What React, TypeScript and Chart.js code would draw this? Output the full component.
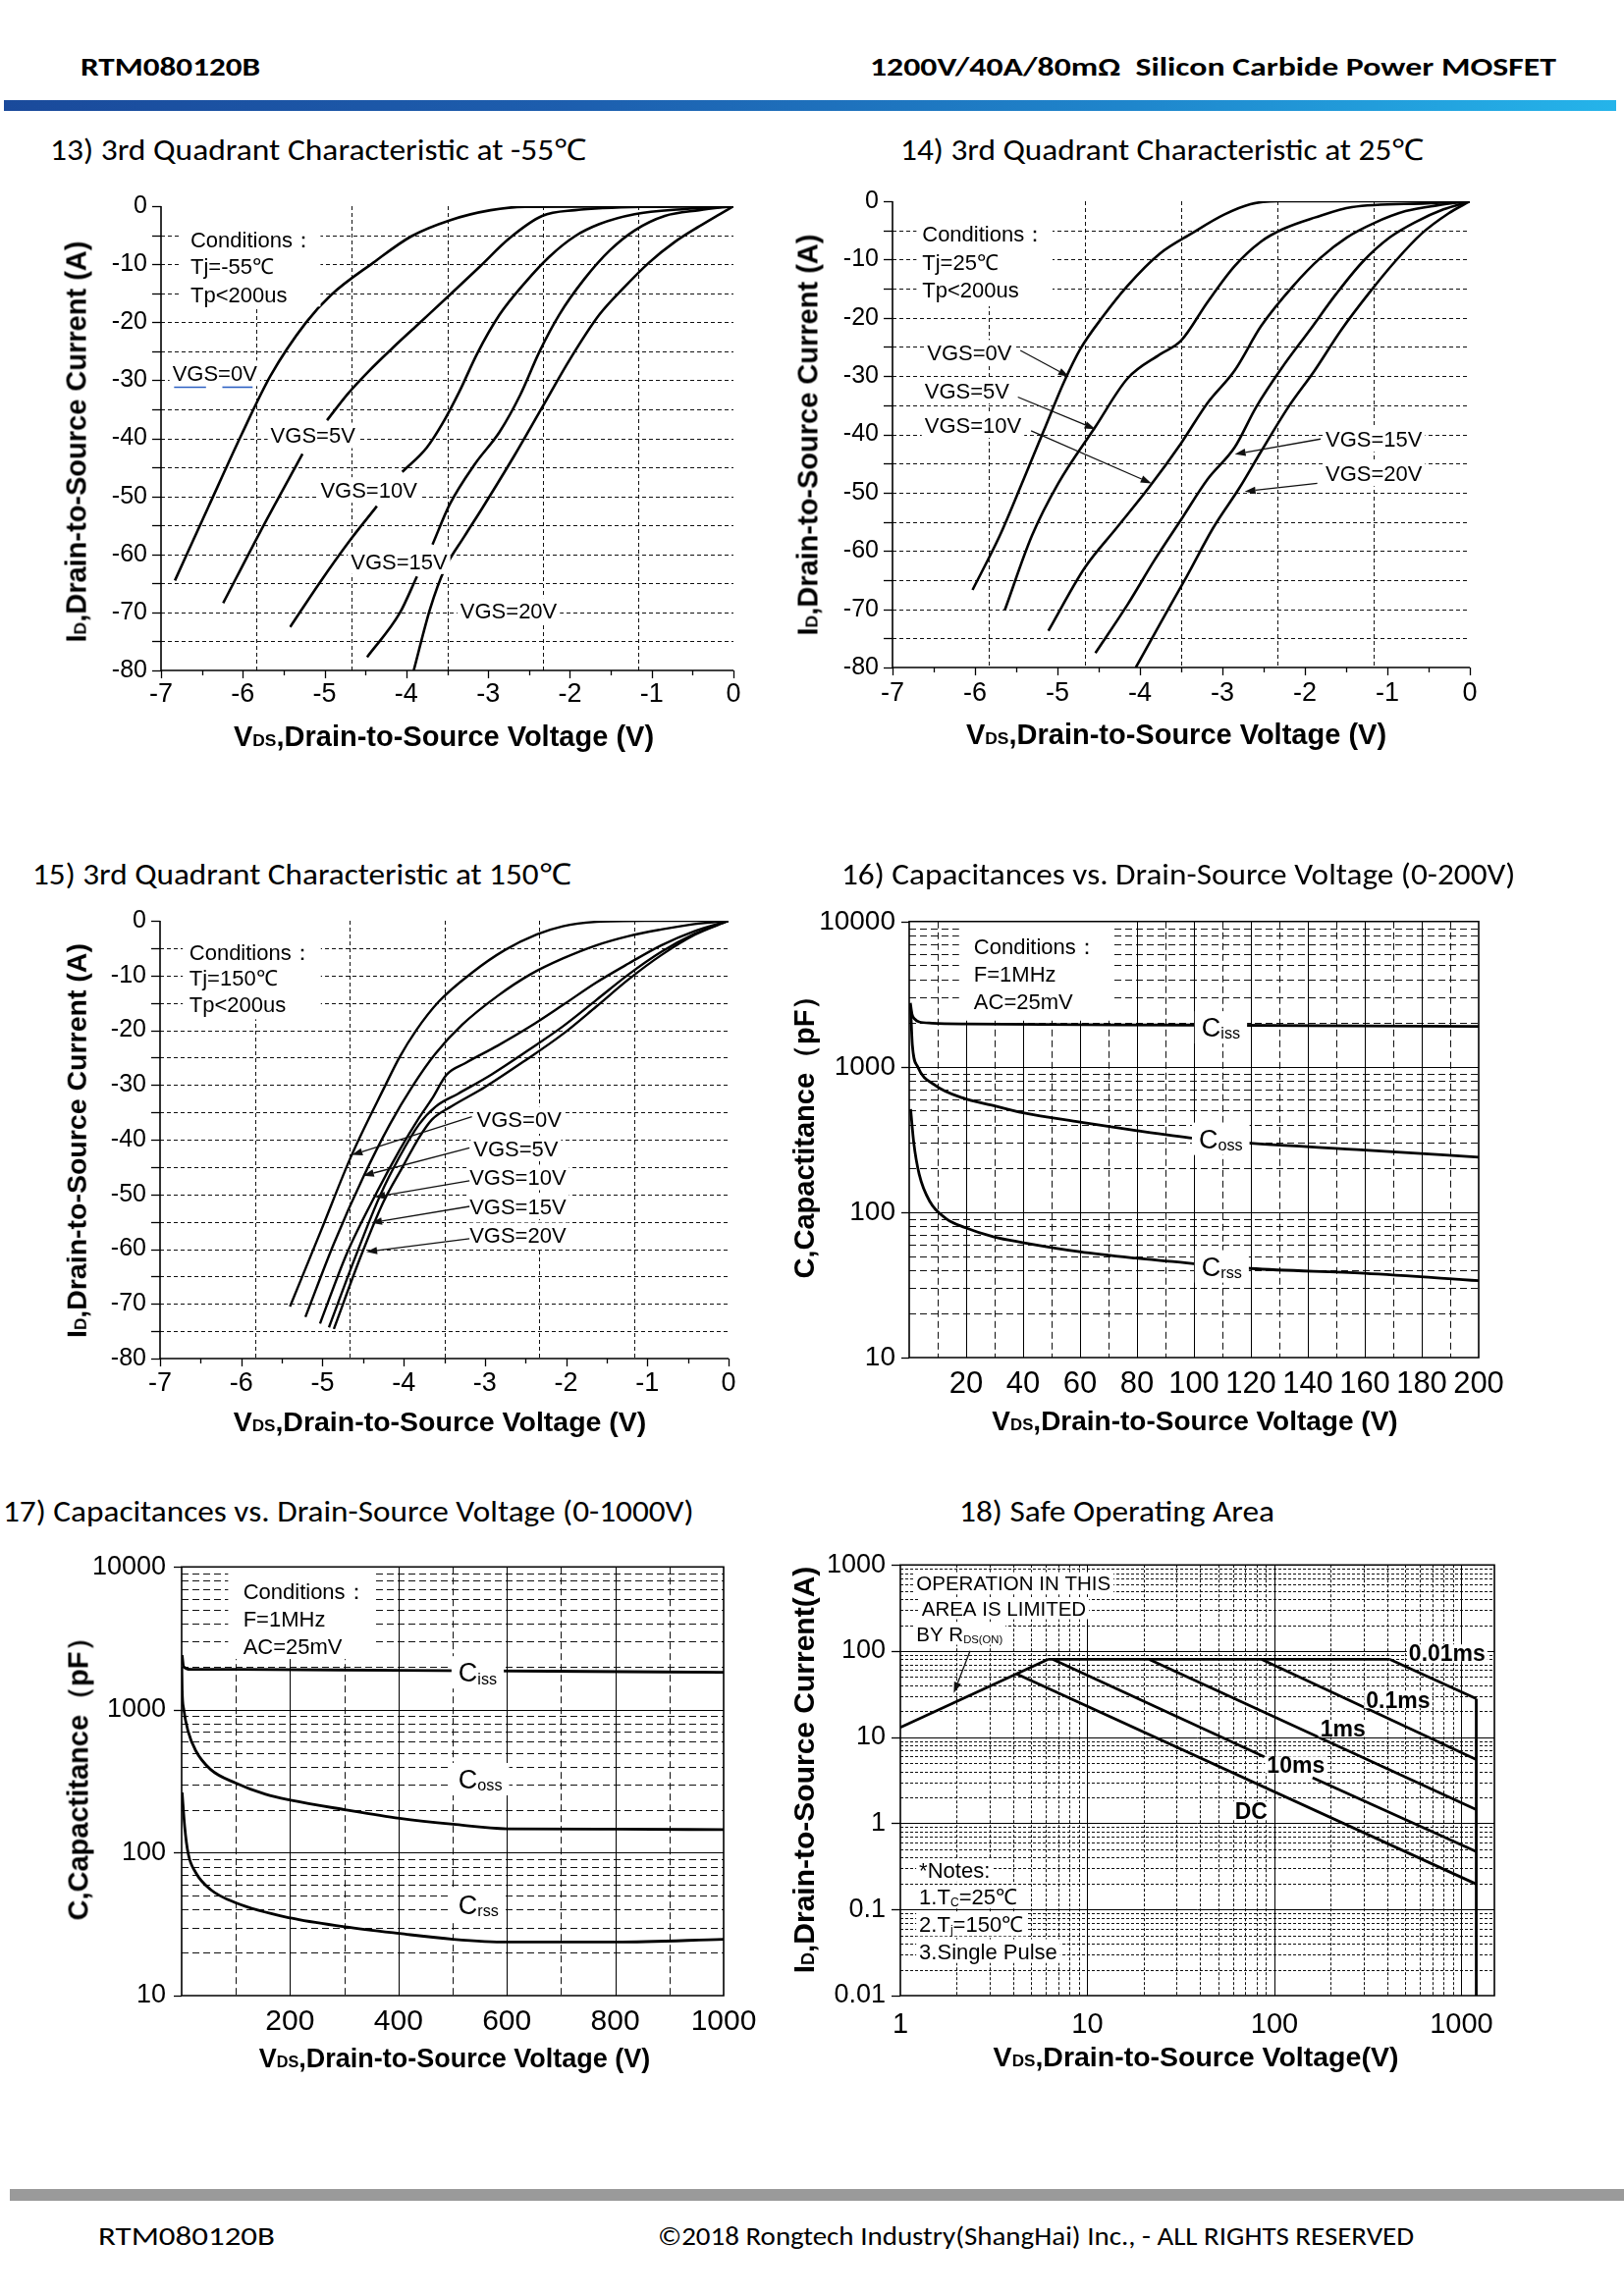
import React, { useEffect, useLayoutEffect, useRef } from 'react';
import { Chart, registerables } from 'chart.js';

Chart.register(...registerables);

type P = [number, number] | null;

/* ---------- 13) 3rd quadrant, Tj = -55℃   [VDS (V), ID (A)] ---------- */
const Q55_VGS0: P[] = [[-6.83,-64.5],[-6.42,-51.8],[-6.01,-39.2],[-5.66,-29.2],[-5.23,-20.1],[-4.92,-15.3],[-4.40,-9.7],[-3.94,-5.2],[-3.46,-2.4],[-2.97,-0.7],[-2.55,-0.1],[0,0]];
const Q55_VGS5: P[] = [[-6.24,-68.4],[-5.79,-56.2],[-5.27,-42.7],null,[-4.97,-36.9],[-4.72,-32.4],[-4.45,-28.3],[-4.18,-24.6],[-3.89,-20.8],[-3.47,-15.3],[-3.10,-10.4],[-2.74,-5.55],[-2.34,-1.7],[-1.94,-0.7],[-1.03,-0.1],[0,0]];
const Q55_VGS10: P[] = [[-5.42,-72.5],[-5.06,-64.9],[-4.69,-57.6],[-4.36,-51.7],null,[-4.05,-45.8],[-3.75,-41.6],[-3.56,-37.5],[-3.35,-31.9],[-3.13,-25.3],[-2.86,-18.7],[-2.55,-13.2],[-2.25,-8.7],[-1.94,-5.2],[-1.64,-3.1],[-1.21,-1.4],[-0.60,-0.5],[0,0]];
const Q55_VGS15: P[] = [[-4.48,-77.7],[-4.08,-70.1],[-3.87,-63.8],null,[-3.68,-58.3],[-3.47,-51.4],[-3.16,-44.4],[-2.86,-38.9],[-2.61,-32.6],[-2.37,-25.0],[-2.13,-18.7],[-1.82,-12.5],[-1.51,-7.6],[-1.21,-4.2],[-0.84,-1.7],[-0.42,-0.7],[0,0]];
const Q55_VGS20: P[] = [[-3.91,-80],[-3.71,-69.4],[-3.53,-62.5],[-3.29,-56.9],[-3.07,-52.0],[-2.68,-43.0],[-2.34,-34.7],[-2.00,-26.4],[-1.64,-18.7],[-1.33,-13.9],[-1.03,-9.7],[-0.72,-6.2],[-0.42,-3.5],[-0.17,-1.4],[0,0]];

/* ---------- 14) 3rd quadrant, Tj = 25℃ ---------- */
const Q25_VGS0: P[] = [[-6.03,-66.7],[-5.70,-57.4],[-5.41,-47.7],[-5.17,-39.5],[-4.92,-31.0],[-4.72,-25.3],[-4.45,-19.8],[-4.15,-14.5],[-3.76,-9.0],[-3.37,-5.5],[-2.98,-2.3],[-2.66,-0.5],[-2.33,0],[0,0]];
const Q25_VGS5: P[] = [[-5.64,-70.2],[-5.31,-57.4],[-4.99,-48.4],[-4.54,-38.7],[-4.15,-30.4],[-3.76,-26.3],[-3.50,-23.9],[-3.18,-17.3],[-2.85,-11.1],[-2.53,-6.9],[-2.27,-4.8],[-1.88,-2.8],[-1.43,-1.0],[-0.52,-0.35],[0,0]];
const Q25_VGS10: P[] = [[-5.11,-73.7],[-4.67,-62.9],[-4.28,-56.0],[-3.89,-49.1],[-3.50,-41.5],[-3.18,-34.6],[-2.85,-29.0],[-2.53,-21.4],[-2.14,-14.5],[-1.81,-9.7],[-1.49,-6.2],[-1.17,-3.8],[-0.78,-1.7],[-0.39,-0.7],[0,0]];
const Q25_VGS15: P[] = [[-4.54,-77.5],[-4.15,-69.2],[-3.82,-61.5],[-3.50,-54.6],[-3.18,-47.7],[-2.85,-42.2],[-2.59,-35.3],[-2.27,-28.4],[-1.94,-22.1],[-1.62,-15.9],[-1.30,-10.4],[-0.97,-6.2],[-0.65,-3.5],[-0.32,-1.4],[0,0]];
const Q25_VGS20: P[] = [[-4.05,-80],[-3.76,-72.6],[-3.43,-64.3],[-3.11,-56.0],[-2.79,-49.1],[-2.53,-42.9],[-2.20,-35.3],[-1.88,-29.0],[-1.56,-22.1],[-1.23,-15.9],[-0.91,-10.4],[-0.58,-5.5],[-0.26,-2.1],[0,0]];

/* ---------- 15) 3rd quadrant, Tj = 150℃ ---------- */
const Q150_VGS0: P[] = [[-5.40,-70.5],[-5.02,-56.7],[-4.64,-42.8],[-4.23,-30.2],[-4.05,-24.9],[-3.85,-20.1],[-3.57,-14.8],[-3.16,-9.5],[-2.76,-5.4],[-2.36,-2.5],[-2.04,-1.0],[-1.63,-0.2],[-1.03,0],[0,0]];
const Q150_VGS5: P[] = [[-5.21,-72.4],[-4.86,-59.0],[-4.49,-46.6],[-4.17,-37.2],[-3.89,-30.2],[-3.61,-24.3],[-3.28,-19.0],[-2.84,-13.7],[-2.44,-9.8],[-2.04,-6.9],[-1.63,-4.5],[-1.23,-2.8],[-0.83,-1.6],[-0.42,-0.6],[0,0]];
const Q150_VGS10: P[] = [[-5.03,-73.6],[-4.70,-60.8],[-4.33,-49.6],[-4.05,-41.9],[-3.81,-36.0],[-3.65,-32.5],[-3.47,-28.1],[-3.24,-26.0],[-2.84,-22.8],[-2.44,-19.3],[-2.04,-15.4],[-1.63,-11.3],[-1.23,-7.8],[-0.83,-4.5],[-0.42,-1.9],[0,0]];
const Q150_VGS15: P[] = [[-4.92,-74.3],[-4.61,-62.0],[-4.29,-50.2],[-4.05,-43.1],[-3.81,-37.2],[-3.61,-34.0],[-3.33,-31.6],[-2.92,-28.1],[-2.44,-23.4],[-2.04,-19.3],[-1.63,-14.5],[-1.23,-9.8],[-0.83,-5.7],[-0.42,-2.4],[0,0]];
const Q150_VGS20: P[] = [[-4.86,-74.6],[-4.53,-61.4],[-4.25,-51.4],[-4.01,-44.9],[-3.81,-39.6],[-3.65,-36.3],[-3.41,-33.9],[-3.00,-30.4],[-2.52,-25.7],[-2.04,-20.7],[-1.63,-15.7],[-1.23,-10.7],[-0.83,-6.3],[-0.42,-2.6],[0,0]];

/* ---------- 16) capacitances 0-200 V   [VDS (V), C (pF)] ---------- */
const C200_CISS: P[] = [[0.4,2750],[1,2300],[2,2130],[3.5,2040],[8,2000],[20,1975],[100,1940],[200,1900]];
const C200_COSS: P[] = [[0.5,2600],[1.1,1420],[3,1000],[9,750],[19,610],[29,545],[40,483],[60,417],[80,364],[100,323],[120,298],[160,268],[200,239]];
const C200_CRSS: P[] = [[0.5,512],[1.6,301],[3.5,183],[7.3,118],[12.9,90.6],[19.8,78.2],[29.8,67.6],[39.8,61.9],[59.8,53.5],[79.5,48.3],[99.8,44.3],[119.9,41.0],[159.8,38.0],[200,33.8]];

/* ---------- 17) capacitances 0-1000 V ---------- */
const C1000_CISS: P[] = [[0.9,2410],[3.7,2000],[16.6,1918],[100,1918],[404,1885],[681,1862],[1000,1828]];
const C1000_COSS: P[] = [[0.3,2000],[0.9,1387],[3.7,1019],[12,705],[25.8,519],[53.5,382],[100,307],[155,256],[201,233],[301,200],[402,174],[501,158],[601,147],[801,146],[1000,145]];
const C1000_CRSS: P[] = [[0.9,264],[5.6,152],[12,98.9],[25.8,72.8],[53.5,55.2],[100,44.6],[201,34.9],[301,30.3],[402,27.2],[501,24.8],[601,23.7],[801,23.7],[1000,24.8]];

/* ---------- 18) safe operating area   [VDS (V), ID (A)] ---------- */
const SOA_RDS: P[] = [[1,13],[6.15,80]];
const SOA_ILIM: P[] = [[6.15,80],[415,80]];
const SOA_10US: P[] = [[415,80],[1200,28]];
const SOA_100US: P[] = [[85.5,80],[1200,5.5]];
const SOA_1MS: P[] = [[21.4,80],[1200,1.44]];
const SOA_10MS: P[] = [[6.54,80],[88.3,5.92],null,[160,3.38],[1200,0.469]];
const SOA_DC: P[] = [[4.18,54.3],[1200,0.197]];
const SOA_BV: P[] = [[1200,28],[1200,0.01]];

/* ---------- ticks & grid values ---------- */
const Q_X_TICKS = [-7,-6,-5,-4,-3,-2,-1,0];
const Q_X_MINOR = [-6.5,-5.5,-4.5,-3.5,-2.5,-1.5,-0.5];
const Q_X_GRID = [-35/6,-28/6,-21/6,-14/6,-7/6];
const Q_Y_TICKS = [-80,-70,-60,-50,-40,-30,-20,-10,0];
const Q_Y_MARKS = [-80,-75,-70,-65,-60,-55,-50,-45,-40,-35,-30,-25,-20,-15,-10,-5,0];
const Q_Y_GRID = [-75,-70,-65,-60,-55,-50,-45,-40,-35,-30,-25,-20,-15,-10,-5];

const C200_X_TICKS = [20,40,60,80,100,120,140,160,180,200];
const C200_X_SOLID = [20,40,60,80,100,120,140,160,180];
const C200_X_DASH = [10,30,50,70,90,110,130,150,170,190];
const C1000_X_TICKS = [200,400,600,800,1000];
const C1000_X_SOLID = [200,400,600,800];
const C1000_X_DASH = [100,300,500,700,900];
const CAP_Y_TICKS = [10,100,1000,10000];
const CAP_Y_SOLID = [100,1000];
const CAP_Y_DASH = [20,30,40,50,60,70,80,90,200,300,400,500,600,700,800,900,2000,3000,4000,5000,6000,7000,8000,9000];

const SOA_X_TICKS = [1,10,100,1000];
const SOA_X_SOLID = [10,100,1000];
const SOA_X_DASH = [2,3,4,5,6,7,8,9,20,30,40,50,60,70,80,90,200,300,400,500,600,700,800,900];
const SOA_Y_TICKS = [0.01,0.1,1,10,100,1000];
const SOA_Y_SOLID = [0.1,1,10,100];
const SOA_Y_DASH = [0.02,0.03,0.04,0.05,0.06,0.07,0.08,0.09,0.2,0.3,0.4,0.5,0.6,0.7,0.8,0.9,2,3,4,5,6,7,8,9,20,30,40,50,60,70,80,90,200,300,400,500,600,700,800,900];

/* ---------- types ---------- */
type Run = { t: string; sub?: boolean };
interface TextAnn { x: number; y: number; text: string | Run[]; size: number; bold?: boolean; bg?: boolean; padX?: number; padY?: number; subScale?: number; subDrop?: number; }
interface Arrow { x1: number; y1: number; x2: number; y2: number; }
interface Seg { x1: number; y1: number; x2: number; y2: number; color: string; width: number; }
interface Box { x1: number; x2: number; y1: number; y2: number; }
interface AxisSpec { type: 'linear' | 'logarithmic'; min: number; max: number; ticks: number[]; font: number; pad: number; narrow?: boolean; solid: number[]; dashed: number[]; major: number[]; minor: number[]; majorLen: number; minorLen: number; }
interface Panel { area: { l: number; t: number; r: number; b: number }; x: AxisSpec; y: AxisSpec; dash: number[]; frame: boolean; series: P[][]; lineWidth: number; smooth: boolean; boxes: Box[]; texts: TextAnn[]; arrows: Arrow[]; segs: Seg[]; }

const ARIAL = "'Liberation Sans', Arial, Helvetica, sans-serif";
const NARROW = "'Liberation Sans Narrow', 'Arial Narrow', 'Liberation Sans', sans-serif";
const TITLE_FONT = "Carlito, Calibri, Lato, 'Open Sans', sans-serif";

const qx = (font: number, pad: number): AxisSpec => ({ type: 'linear', min: -7, max: 0, ticks: Q_X_TICKS, font, pad, narrow: true, solid: [], dashed: Q_X_GRID, major: Q_X_TICKS, minor: Q_X_MINOR, majorLen: 8, minorLen: 5 });
const qy = (font: number, pad: number): AxisSpec => ({ type: 'linear', min: -80, max: 0, ticks: Q_Y_TICKS, font, pad, solid: [], dashed: Q_Y_GRID, major: Q_Y_MARKS, minor: [], majorLen: 9, minorLen: 0 });
const capY = (font: number, pad: number): AxisSpec => ({ type: 'logarithmic', min: 10, max: 10000, ticks: CAP_Y_TICKS, font, pad, solid: CAP_Y_SOLID, dashed: CAP_Y_DASH, major: CAP_Y_TICKS, minor: [], majorLen: 8, minorLen: 0 });

const cond = (x: number, ys: number[], lines: string[]): TextAnn[] => lines.map((t, i) => ({ x, y: ys[i], text: t, size: 22 }));
const vgs = (x: number, y: number, t: string): TextAnn => ({ x, y, text: t, size: 22, bg: true, padX: 3, padY: 2 });
const cap = (x: number, y: number, s: string): TextAnn => ({ x, y, text: [{ t: 'C' }, { t: s, sub: true }], size: 27, bg: true, padX: 7, padY: 3, subScale: 0.6, subDrop: 0.08 });

const PANELS: Panel[] = [
  {
    area: { l: 164, t: 205, r: 747, b: 683 }, x: qx(27, 8), y: qy(25, 14), dash: [4, 3], frame: false,
    series: [Q55_VGS0, Q55_VGS5, Q55_VGS10, Q55_VGS15, Q55_VGS20], lineWidth: 2.6, smooth: true,
    boxes: [{ x1: -6.77, x2: -5.05, y1: 0, y2: -17.3 }],
    texts: [
      ...cond(-6.64, [-5.7, -10.4, -15.3], ['Conditions：', 'Tj=-55℃', 'Tp<200us']),
      vgs(-6.86, -28.8, 'VGS=0V'), vgs(-5.66, -39.5, 'VGS=5V'), vgs(-5.05, -48.9, 'VGS=10V'),
      vgs(-4.68, -61.2, 'VGS=15V'), vgs(-3.34, -69.7, 'VGS=20V'),
    ],
    arrows: [],
    segs: [
      { x1: -6.84, y1: -31.2, x2: -6.45, y2: -31.2, color: '#2f62c4', width: 1.6 },
      { x1: -6.25, y1: -31.2, x2: -5.88, y2: -31.2, color: '#2f62c4', width: 1.6 },
    ],
  },
  {
    area: { l: 909, t: 200, r: 1497, b: 680 }, x: qx(27, 10), y: qy(25, 14), dash: [4, 3], frame: false,
    series: [Q25_VGS0, Q25_VGS5, Q25_VGS10, Q25_VGS15, Q25_VGS20], lineWidth: 2.6, smooth: true,
    boxes: [{ x1: -6.71, x2: -5.06, y1: 0, y2: -18 }],
    texts: [
      ...cond(-6.64, [-5.5, -10.4, -15.2], ['Conditions：', 'Tj=25℃', 'Tp<200us']),
      vgs(-6.58, -26.0, 'VGS=0V'), vgs(-6.61, -32.5, 'VGS=5V'), vgs(-6.61, -38.4, 'VGS=10V'),
      vgs(-1.75, -40.8, 'VGS=15V'), vgs(-1.75, -46.7, 'VGS=20V'),
    ],
    arrows: [
      { x1: -5.45, y1: -25.6, x2: -4.86, y2: -30.1 },
      { x1: -5.48, y1: -33.6, x2: -4.54, y2: -39.1 },
      { x1: -5.32, y1: -39.4, x2: -3.86, y2: -48.4 },
      { x1: -1.81, y1: -40.8, x2: -2.85, y2: -43.4 },
      { x1: -1.85, y1: -48.4, x2: -2.73, y2: -49.8 },
    ],
    segs: [],
  },
  {
    area: { l: 163, t: 933, r: 742, b: 1384 }, x: qx(27, 9), y: qy(25, 14), dash: [4, 3], frame: false,
    series: [Q150_VGS0, Q150_VGS5, Q150_VGS10, Q150_VGS15, Q150_VGS20], lineWidth: 2.4, smooth: true,
    boxes: [{ x1: -6.72, x2: -5.02, y1: 0, y2: -18 }],
    texts: [
      ...cond(-6.64, [-5.7, -10.4, -15.2], ['Conditions：', 'Tj=150℃', 'Tp<200us']),
      vgs(-3.10, -36.3, 'VGS=0V'), vgs(-3.14, -41.6, 'VGS=5V'), vgs(-3.19, -46.9, 'VGS=10V'),
      vgs(-3.19, -52.2, 'VGS=15V'), vgs(-3.19, -57.5, 'VGS=20V'),
    ],
    arrows: [
      { x1: -3.16, y1: -35.8, x2: -4.64, y2: -42.8 },
      { x1: -3.19, y1: -41.5, x2: -4.50, y2: -46.6 },
      { x1: -3.19, y1: -47.5, x2: -4.36, y2: -50.5 },
      { x1: -3.19, y1: -52.2, x2: -4.40, y2: -55.2 },
      { x1: -3.19, y1: -58.1, x2: -4.46, y2: -60.5 },
    ],
    segs: [],
  },
  {
    area: { l: 926, t: 932, r: 1506, b: 1383 },
    x: { type: 'linear', min: 0, max: 200, ticks: C200_X_TICKS, font: 31, pad: 9, narrow: true, solid: C200_X_SOLID, dashed: C200_X_DASH, major: [], minor: [], majorLen: 0, minorLen: 0 },
    y: capY(28, 14), dash: [7, 4], frame: true,
    series: [C200_CISS, C200_COSS, C200_CRSS], lineWidth: 2.8, smooth: true,
    boxes: [{ x1: 17.5, x2: 71.5, y1: 10000, y2: 2080 }],
    texts: [
      ...cond(22.7, [6770, 4360, 2805], ['Conditions：', 'F=1MHz', 'AC=25mV']),
      cap(102.7, 1870, 'iss'), cap(101.7, 320, 'oss'), cap(102.7, 42.4, 'rss'),
    ],
    arrows: [], segs: [],
  },
  {
    area: { l: 185, t: 1588, r: 737, b: 2033 },
    x: { type: 'linear', min: 0, max: 1000, ticks: C1000_X_TICKS, font: 30, pad: 9, narrow: true, solid: C1000_X_SOLID, dashed: C1000_X_DASH, major: [], minor: [], majorLen: 0, minorLen: 0 },
    y: capY(27, 16), dash: [7, 4], frame: true,
    series: [C1000_CISS, C1000_COSS, C1000_CRSS], lineWidth: 2.8, smooth: true,
    boxes: [{ x1: 85.8, x2: 353.7, y1: 10000, y2: 2266 }],
    texts: [
      ...cond(113.5, [6750, 4315, 2805], ['Conditions：', 'F=1MHz', 'AC=25mV']),
      cap(510.6, 1828, 'iss'), cap(510.6, 327, 'oss'), cap(510.6, 43.2, 'rss'),
    ],
    arrows: [], segs: [],
  },
  {
    area: { l: 917, t: 1587, r: 1522, b: 2033 },
    x: { type: 'logarithmic', min: 1, max: 1500, ticks: SOA_X_TICKS, font: 29, pad: 13, narrow: true, solid: SOA_X_SOLID, dashed: SOA_X_DASH, major: [], minor: [], majorLen: 0, minorLen: 0 },
    y: { type: 'logarithmic', min: 0.01, max: 1000, ticks: SOA_Y_TICKS, font: 27, pad: 15, solid: SOA_Y_SOLID, dashed: SOA_Y_DASH, major: SOA_Y_TICKS, minor: [], majorLen: 9, minorLen: 0 },
    dash: [3, 2], frame: true,
    series: [SOA_RDS, SOA_ILIM, SOA_10US, SOA_100US, SOA_1MS, SOA_10MS, SOA_DC, SOA_BV], lineWidth: 2.8, smooth: false,
    boxes: [],
    texts: [
      { x: 1.218, y: 612, text: 'OPERATION IN THIS', size: 20.5, bg: true, padX: 3, padY: 1 },
      { x: 1.30, y: 315, text: 'AREA IS LIMITED', size: 20.5, bg: true, padX: 3, padY: 1 },
      { x: 1.218, y: 159, text: [{ t: 'BY R' }, { t: 'DS(ON)', sub: true }], size: 20.5, bg: true, padX: 3, padY: 1, subScale: 0.55, subDrop: 0.1 },
      { x: 523, y: 95.5, text: '0.01ms', size: 23, bold: true, bg: true, padX: 2, padY: -3 },
      { x: 309, y: 27.1, text: '0.1ms', size: 23, bold: true, bg: true, padX: 2, padY: -3 },
      { x: 176, y: 12.6, text: '1ms', size: 23, bold: true, bg: true, padX: 2, padY: -3 },
      { x: 91.2, y: 4.78, text: '10ms', size: 23, bold: true, bg: true, padX: 2, padY: -3 },
      { x: 61.5, y: 1.40, text: 'DC', size: 23, bold: true, bg: true, padX: 2, padY: -2 },
      { x: 1.26, y: 0.288, text: '*Notes:', size: 22, bg: true, padX: 3, padY: 1 },
      { x: 1.26, y: 0.141, text: [{ t: '1.T' }, { t: 'C', sub: true }, { t: '=25℃' }], size: 22, bg: true, padX: 3, padY: 1, subScale: 0.55, subDrop: 0.1 },
      { x: 1.26, y: 0.0673, text: [{ t: '2.T' }, { t: 'j', sub: true }, { t: '=150℃' }], size: 22, bg: true, padX: 3, padY: 1, subScale: 0.55, subDrop: 0.1 },
      { x: 1.26, y: 0.0329, text: '3.Single Pulse', size: 22, bg: true, padX: 3, padY: 1 },
    ],
    arrows: [{ x1: 2.36, y1: 100.5, x2: 1.93, y2: 32.6 }],
    segs: [],
  },
];

const LEFT = 100, TOP = 24, RIGHT = 45, BOTTOM = 62;

function segments(pts: P[]) {
  const out: { x: number; y: number }[][] = [];
  let cur: { x: number; y: number }[] = [];
  for (const p of pts) {
    if (p === null) { if (cur.length) out.push(cur); cur = []; }
    else cur.push({ x: p[0], y: p[1] });
  }
  if (cur.length) out.push(cur);
  return out;
}

function vLine(ctx: CanvasRenderingContext2D, px: number, y1: number, y2: number) {
  const x = Math.round(px) + 0.5;
  ctx.beginPath(); ctx.moveTo(x, y1); ctx.lineTo(x, y2); ctx.stroke();
}
function hLine(ctx: CanvasRenderingContext2D, py: number, x1: number, x2: number) {
  const y = Math.round(py) + 0.5;
  ctx.beginPath(); ctx.moveTo(x1, y); ctx.lineTo(x2, y); ctx.stroke();
}

function drawText(ctx: CanvasRenderingContext2D, a: TextAnn, px: number, py: number) {
  const runs: Run[] = typeof a.text === 'string' ? [{ t: a.text }] : a.text;
  const weight = a.bold ? 'bold ' : '';
  const subSize = a.size * (a.subScale ?? 0.6);
  const widths: number[] = [];
  let w = 0;
  runs.forEach(r => {
    ctx.font = `${weight}${r.sub ? subSize : a.size}px ${ARIAL}`;
    const m = ctx.measureText(r.t).width;
    widths.push(m); w += m;
  });
  if (a.bg) {
    const padX = a.padX ?? 4, padY = a.padY ?? 3;
    ctx.fillStyle = '#fff';
    ctx.fillRect(px - padX, py - a.size * 0.5 - padY, w + 2 * padX, a.size + 2 * padY);
  }
  ctx.fillStyle = '#000';
  ctx.textAlign = 'left';
  ctx.textBaseline = 'alphabetic';
  const base = py + a.size * 0.36;
  let x = px;
  runs.forEach((r, i) => {
    ctx.font = `${weight}${r.sub ? subSize : a.size}px ${ARIAL}`;
    ctx.fillText(r.t, x, base + (r.sub ? a.size * (a.subDrop ?? 0.08) : 0));
    x += widths[i];
  });
}

function drawArrow(ctx: CanvasRenderingContext2D, x1: number, y1: number, x2: number, y2: number) {
  ctx.strokeStyle = '#111';
  ctx.fillStyle = '#111';
  ctx.lineWidth = 1.3;
  ctx.setLineDash([]);
  const ang = Math.atan2(y2 - y1, x2 - x1);
  const L = 11, W = 3.8;
  const bx = x2 - L * Math.cos(ang), by = y2 - L * Math.sin(ang);
  ctx.beginPath(); ctx.moveTo(x1, y1); ctx.lineTo(bx, by); ctx.stroke();
  ctx.beginPath();
  ctx.moveTo(x2, y2);
  ctx.lineTo(bx + W * Math.sin(ang), by - W * Math.cos(ang));
  ctx.lineTo(bx - W * Math.sin(ang), by + W * Math.cos(ang));
  ctx.closePath(); ctx.fill();
}

function makePlugin(p: Panel) {
  return {
    id: 'sheetPanel',
    beforeDatasetsDraw(chart: any) {
      const { ctx, chartArea: ca } = chart;
      const xs = chart.scales.x, ys = chart.scales.y;
      ctx.save();
      ctx.strokeStyle = '#111';
      ctx.lineWidth = 1;
      ctx.setLineDash(p.dash);
      p.x.dashed.forEach(v => vLine(ctx, xs.getPixelForValue(v), ca.top, ca.bottom));
      p.y.dashed.forEach(v => hLine(ctx, ys.getPixelForValue(v), ca.left, ca.right));
      ctx.setLineDash([]);
      ctx.strokeStyle = '#000';
      p.x.solid.forEach(v => vLine(ctx, xs.getPixelForValue(v), ca.top, ca.bottom));
      p.y.solid.forEach(v => hLine(ctx, ys.getPixelForValue(v), ca.left, ca.right));
      ctx.restore();
    },
    afterDatasetsDraw(chart: any) {
      const { ctx, chartArea: ca } = chart;
      const xs = chart.scales.x, ys = chart.scales.y;
      const X = (v: number) => xs.getPixelForValue(v);
      const Y = (v: number) => ys.getPixelForValue(v);
      ctx.save();
      ctx.fillStyle = '#fff';
      p.boxes.forEach(b => {
        const x1 = X(b.x1), x2 = X(b.x2), y1 = Y(b.y1), y2 = Y(b.y2);
        ctx.fillRect(Math.min(x1, x2), Math.min(y1, y2), Math.abs(x2 - x1), Math.abs(y2 - y1));
      });
      p.texts.forEach(t => drawText(ctx, t, X(t.x), Y(t.y)));
      p.arrows.forEach(a => drawArrow(ctx, X(a.x1), Y(a.y1), X(a.x2), Y(a.y2)));
      p.segs.forEach(s => {
        ctx.strokeStyle = s.color; ctx.lineWidth = s.width; ctx.setLineDash([]);
        ctx.beginPath(); ctx.moveTo(X(s.x1), Y(s.y1)); ctx.lineTo(X(s.x2), Y(s.y2)); ctx.stroke();
      });
      ctx.strokeStyle = '#000';
      ctx.lineWidth = 1.6;
      ctx.setLineDash([]);
      ctx.beginPath();
      if (p.frame) {
        ctx.rect(ca.left, ca.top, ca.right - ca.left, ca.bottom - ca.top);
      } else {
        ctx.moveTo(ca.left, ca.top); ctx.lineTo(ca.left, ca.bottom); ctx.lineTo(ca.right, ca.bottom);
      }
      ctx.stroke();
      ctx.lineWidth = 1.3;
      p.x.major.forEach(v => { const x = Math.round(X(v)) + 0.5; ctx.beginPath(); ctx.moveTo(x, ca.bottom); ctx.lineTo(x, ca.bottom + p.x.majorLen); ctx.stroke(); });
      p.x.minor.forEach(v => { const x = Math.round(X(v)) + 0.5; ctx.beginPath(); ctx.moveTo(x, ca.bottom); ctx.lineTo(x, ca.bottom + p.x.minorLen); ctx.stroke(); });
      p.y.major.forEach(v => { const y = Math.round(Y(v)) + 0.5; ctx.beginPath(); ctx.moveTo(ca.left - p.y.majorLen, y); ctx.lineTo(ca.left, y); ctx.stroke(); });
      ctx.restore();
    },
  };
}

function scaleOpts(a: AxisSpec, isX: boolean) {
  return {
    type: a.type,
    min: a.min,
    max: a.max,
    bounds: 'data',
    position: isX ? 'bottom' : 'left',
    grid: { display: false, drawTicks: false },
    border: { display: false },
    ticks: {
      autoSkip: false,
      maxRotation: 0,
      minRotation: 0,
      padding: a.pad,
      color: '#000',
      font: { family: a.narrow ? NARROW : ARIAL, size: a.font },
      callback: (v: any) => String(v),
    },
    afterBuildTicks: (s: any) => { s.ticks = [...a.ticks].sort((m, n) => m - n).map(v => ({ value: v })); },
    afterFit: (s: any) => { if (isX) s.height = BOTTOM; else s.width = LEFT; },
  };
}

function FitText({ left, cy, width, size, bold, children }: { left: number; cy: number; width: number; size: number; bold?: boolean; children: any }) {
  const ref = useRef<HTMLSpanElement>(null);
  useLayoutEffect(() => {
    const el = ref.current;
    if (!el) return;
    const w = el.offsetWidth;
    if (w > 0) el.style.transform = `translateY(-50%) scaleX(${width / w})`;
  }, [width]);
  return (
    <span ref={ref} style={{ position: 'absolute', left, top: cy, transform: 'translateY(-50%)', transformOrigin: 'left center', whiteSpace: 'pre', fontFamily: TITLE_FONT, fontSize: size, fontWeight: bold ? 700 : 400, lineHeight: 1, color: '#000' }}>
      {children}
    </span>
  );
}

function AxisTitle({ cx, cy, size, rotate, children }: { cx: number; cy: number; size: number; rotate?: boolean; children: any }) {
  return (
    <div style={{ position: 'absolute', left: cx, top: cy, transform: `translate(-50%, -50%)${rotate ? ' rotate(-90deg)' : ''}`, whiteSpace: 'pre', fontFamily: ARIAL, fontWeight: 700, fontSize: size, lineHeight: 1, color: '#000' }}>
      {children}
    </div>
  );
}

const sub = (t: string) => <span style={{ fontSize: '0.6em' }}>{t}</span>;
const ID_TITLE = (sp: boolean) => <>I{sub('D')},Drain-to-Source Current{sp ? ' ' : ''}(A)</>;
const VDS_TITLE = (sp: boolean) => <>V{sub('DS')},Drain-to-Source Voltage{sp ? ' ' : ''}(V)</>;
const CAP_TITLE = <>C,Capactitance（pF）</>;

export default function App() {
  const refs = useRef<(HTMLCanvasElement | null)[]>([]);

  useEffect(() => {
    const charts = PANELS.map((p, i) => {
      const canvas = refs.current[i] as HTMLCanvasElement;
      const datasets = p.series.flatMap(s => segments(s).map(seg => ({
        data: seg,
        showLine: true,
        borderColor: '#000',
        backgroundColor: '#000',
        borderWidth: p.lineWidth,
        pointRadius: 0,
        pointHoverRadius: 0,
        fill: false,
        tension: 0,
        cubicInterpolationMode: p.smooth ? 'monotone' : 'default',
      })));
      return new Chart(canvas, {
        type: 'scatter',
        data: { datasets } as any,
        options: {
          animation: false,
          responsive: false,
          maintainAspectRatio: false,
          events: [],
          layout: { padding: { left: 0, top: TOP, right: RIGHT, bottom: 0 } },
          plugins: { legend: { display: false }, tooltip: { enabled: false }, title: { display: false } },
          scales: { x: scaleOpts(p.x, true), y: scaleOpts(p.y, false) } as any,
        },
        plugins: [makePlugin(p)],
      } as any);
    });
    return () => charts.forEach(c => c.destroy());
  }, []);

  return (
    <div style={{ position: 'absolute', left: 0, top: 0, width: 1654, height: 2339, background: '#fff', overflow: 'hidden' }}>
      <FitText left={82} cy={67} width={183} size={27} bold>RTM080120B</FitText>
      <FitText left={886} cy={67} width={699} size={27} bold>{'1200V/40A/80mΩ  Silicon Carbide Power MOSFET'}</FitText>
      <div style={{ position: 'absolute', left: 4, top: 102, width: 1642, height: 11, background: 'linear-gradient(90deg, #1a4a9b 0%, #1d5eae 35%, #1f86cc 70%, #25b4ea 100%)' }} />

      {PANELS.map((p, i) => {
        const w = p.area.r - p.area.l + LEFT + RIGHT;
        const h = p.area.b - p.area.t + TOP + BOTTOM;
        return (
          <canvas
            key={i}
            ref={el => { refs.current[i] = el; }}
            width={w}
            height={h}
            style={{ position: 'absolute', left: p.area.l - LEFT, top: p.area.t - TOP, width: w, height: h }}
          />
        );
      })}

      <FitText left={51} cy={153} width={547} size={30}>13) 3rd Quadrant Characteristic at -55℃</FitText>
      <FitText left={917} cy={153} width={534} size={30}>14) 3rd Quadrant Characteristic at 25℃</FitText>
      <FitText left={33} cy={891} width={549} size={30}>15) 3rd Quadrant Characteristic at 150℃</FitText>
      <FitText left={857} cy={891} width={686} size={30}>16) Capacitances vs. Drain-Source Voltage (0-200V)</FitText>
      <FitText left={3} cy={1540} width={704} size={30}>17) Capacitances vs. Drain-Source Voltage (0-1000V)</FitText>
      <FitText left={977} cy={1540} width={321} size={30}>18) Safe Operating Area</FitText>

      <AxisTitle cx={78} cy={450} size={29} rotate>{ID_TITLE(true)}</AxisTitle>
      <AxisTitle cx={452} cy={750} size={29}>{VDS_TITLE(true)}</AxisTitle>
      <AxisTitle cx={823} cy={443} size={29} rotate>{ID_TITLE(true)}</AxisTitle>
      <AxisTitle cx={1198} cy={748} size={29}>{VDS_TITLE(true)}</AxisTitle>
      <AxisTitle cx={78} cy={1162} size={28.5} rotate>{ID_TITLE(true)}</AxisTitle>
      <AxisTitle cx={448} cy={1448} size={28.5}>{VDS_TITLE(true)}</AxisTitle>
      <AxisTitle cx={819} cy={1151} size={29} rotate>{CAP_TITLE}</AxisTitle>
      <AxisTitle cx={1217} cy={1448} size={28}>{VDS_TITLE(true)}</AxisTitle>
      <AxisTitle cx={80} cy={1805} size={29} rotate>{CAP_TITLE}</AxisTitle>
      <AxisTitle cx={463} cy={2097} size={27}>{VDS_TITLE(true)}</AxisTitle>
      <AxisTitle cx={819} cy={1803} size={30} rotate>{ID_TITLE(false)}</AxisTitle>
      <AxisTitle cx={1218} cy={2095} size={28.5}>{VDS_TITLE(false)}</AxisTitle>

      <div style={{ position: 'absolute', left: 10, top: 2230, width: 1644, height: 12, background: '#9a9a9a' }} />
      <FitText left={100} cy={2278} width={180} size={26}>RTM080120B</FitText>
      <FitText left={670} cy={2278} width={770} size={26}>©2018 Rongtech Industry(ShangHai) Inc., - ALL RIGHTS RESERVED</FitText>
    </div>
  );
}
